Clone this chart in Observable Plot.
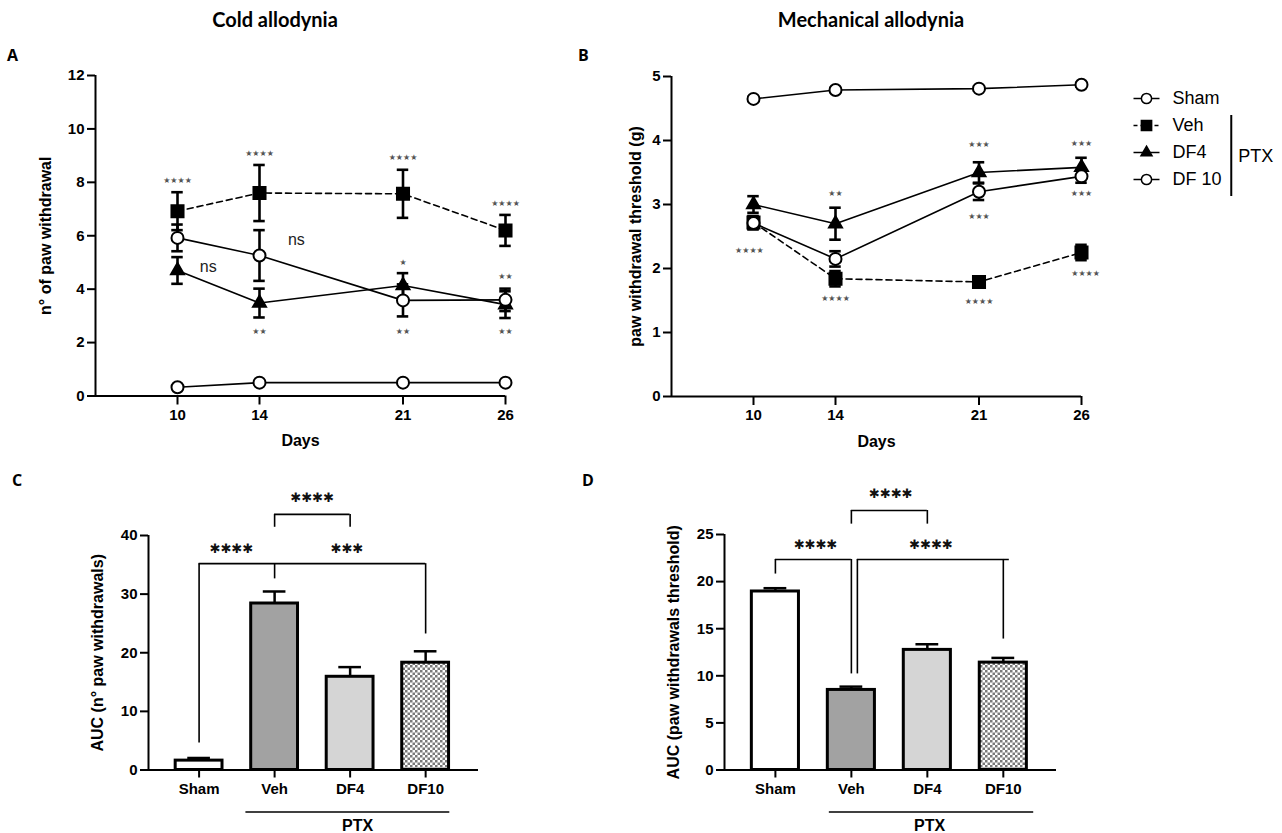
<!DOCTYPE html>
<html><head><meta charset="utf-8">
<script src="https://cdn.jsdelivr.net/npm/d3@7"></script>
<script src="https://cdn.jsdelivr.net/npm/@observablehq/plot@0.6"></script>
<style>
html,body{margin:0;padding:0;background:#fff;}
#fig{position:relative;width:1282px;height:833px;overflow:hidden;background:#fff;}
#fig > svg{position:absolute;left:0;top:0;}
.t{position:absolute;font-weight:bold;color:#000;white-space:nowrap;line-height:1;font-family:'Liberation Sans',Arial,sans-serif;}
.title{font-family:Lato,'Open Sans',sans-serif;font-size:20px;transform:translateX(-50%);}
.letter{font-family:'Open Sans',sans-serif;font-size:16px;}
</style></head><body>
<div id="fig">
<div class="t title" style="left:275px;top:9px;">Cold allodynia</div>
<div class="t title" style="left:871px;top:9px;">Mechanical allodynia</div>
<div class="t letter" style="left:7px;top:47px;">A</div>
<div class="t letter" style="left:578px;top:47px;">B</div>
<div class="t letter" style="left:12px;top:472px;">C</div>
<div class="t letter" style="left:582px;top:472px;">D</div>
</div>
<script>
// ---------- data ----------
const days = [10, 14, 21, 26];
const groups = ["Sham", "Veh", "DF4", "DF 10"];

// A: cold allodynia (n° of paw withdrawal)
const coldSham = [0.33, 0.5, 0.5, 0.5];
const coldShamSem = [0.05, 0.05, 0.05, 0.05];
const coldVeh = [6.92, 7.6, 7.57, 6.2];
const coldVehSem = [0.71, 1.05, 0.9, 0.58];
const coldDF4 = [4.7, 3.48, 4.14, 3.42];
const coldDF4Sem = [0.5, 0.54, 0.46, 0.5];
const coldDF10 = [5.92, 5.26, 3.58, 3.6];
const coldDF10Sem = [0.5, 0.95, 0.6, 0.42];
const coldYTicks = [0, 2, 4, 6, 8, 10, 12];
const coldStars = [
  {day: 10, v: 8.07, t: "****"}, {day: 14, v: 9.08, t: "****"},
  {day: 21, v: 8.94, t: "****"}, {day: 26, v: 7.22, t: "****"},
  {day: 14, v: 2.42, t: "**"}, {day: 21, v: 5.0, t: "*"},
  {day: 21, v: 2.42, t: "**"}, {day: 26, v: 4.48, t: "**"}, {day: 26, v: 2.42, t: "**"}
];
const coldNs = [{day: 11.5, v: 4.82, t: "ns"}, {day: 15.8, v: 5.86, t: "ns"}];

// B: mechanical allodynia (paw withdrawal threshold, g)
const mechSham = [4.65, 4.79, 4.81, 4.87];
const mechShamSem = [0.03, 0.03, 0.03, 0.03];
const mechVeh = [2.72, 1.84, 1.79, 2.25];
const mechVehSem = [0.1, 0.12, 0.06, 0.12];
const mechDF4 = [3.0, 2.7, 3.5, 3.58];
const mechDF4Sem = [0.13, 0.25, 0.16, 0.15];
const mechDF10 = [2.71, 2.15, 3.2, 3.44];
const mechDF10Sem = [0.1, 0.12, 0.13, 0.1];
const mechYTicks = [0, 1, 2, 3, 4, 5];
const mechStars = [
  {day: 9.8, v: 2.29, t: "****"},
  {day: 14, v: 3.18, t: "**"}, {day: 14, v: 1.53, t: "****"},
  {day: 21, v: 3.94, t: "***"}, {day: 21, v: 2.81, t: "***"}, {day: 21, v: 1.49, t: "****"},
  {day: 26, v: 3.96, t: "***"}, {day: 26, v: 3.18, t: "***"}, {day: 26.2, v: 1.93, t: "****"}
];

// C, D: AUC bars
const barCats = ["Sham", "Veh", "DF4", "DF10"];
const aucCold = [1.6, 28.4, 15.9, 18.3];
const aucColdSem = [0.45, 2.05, 1.65, 1.95];
const aucMech = [18.95, 8.5, 12.75, 11.4];
const aucMechSem = [0.35, 0.35, 0.6, 0.5];
const aucColdTicks = [0, 10, 20, 30, 40];
const aucMechTicks = [0, 5, 10, 15, 20, 25];
const bracketsC = [
  {from: "Veh", to: "DF4", y: 43.6, legs: [["Veh", 41.4], ["DF4", 41.4]]},
  {from: "Sham", to: "DF10", y: 35.2, legs: [["Sham", 4.6], ["Veh", 32.6], ["DF10", 23.2]]}
];
const sigC = [{x: 1.5, y: 46.4, t: "****"}, {x: 0.43, y: 37.7, t: "****"}, {x: 1.96, y: 37.7, t: "***"}];
const bracketsD = [
  {from: "Veh", to: "DF4", y: 27.55, legs: [["Veh", 26.1], ["DF4", 26.1]]},
  {from: "Sham", to: "Veh", y: 22.35, legs: [["Sham", 20.8], ["Veh", 10.2]]},
  {from: "Veh", to: "DF10", y: 22.35, legs: [["Veh", 10.2], ["DF10", 13.9]], shift: true}
];
const sigD = [{x: 1.52, y: 29.3, t: "****"}, {x: 0.53, y: 23.9, t: "****"}, {x: 2.05, y: 23.9, t: "****"}];

// ---------- drawing ----------
const W = 1282, H = 833;
const fig = document.getElementById("fig");
const FONT = "'Liberation Sans', Arial, Helvetica, sans-serif";
const baseStyle = {fontFamily: FONT, fontSize: "15px", fontWeight: "bold", background: "transparent", overflow: "visible", color: "black"};
const star = s => s.replace(/\*/g, "\u2605");
const plain = d => String(d);

function linePanel(cfg) {
  const rows = cfg.series.flatMap(s => days.map((d, i) => ({name: s.name, day: d, v: s.values[i], sem: s.sem[i]})));
  const marks = [
    Plot.ruleY([cfg.yDomain[0]], {strokeWidth: 2}),
    Plot.ruleX([cfg.xDomain[0]], {strokeWidth: 2}),
    Plot.axisX({ticks: days, tickFormat: plain, tickSize: 9, tickPadding: 4, label: null, strokeWidth: 2, fontFamily: FONT}),
    Plot.axisY({ticks: cfg.yTicks, tickFormat: plain, tickSize: 8, tickPadding: 3, label: null, strokeWidth: 2, fontFamily: FONT}),
    Plot.text([cfg.yLabel], {frameAnchor: "left", rotate: -90, dx: cfg.yLabelDx, textAnchor: "middle", lineAnchor: "middle", fontSize: 16, fontFamily: FONT}),
    Plot.text(["Days"], {frameAnchor: "bottom", dy: 45, textAnchor: "middle", lineAnchor: "middle", fontSize: 16, fontFamily: FONT})
  ];
  for (const s of cfg.series) {
    marks.push(Plot.line(rows.filter(d => d.name === s.name), {x: "day", y: "v", strokeWidth: 1.6, strokeDasharray: s.dash}));
  }
  for (const s of cfg.series) {
    const r = rows.filter(d => d.name === s.name);
    marks.push(
      Plot.ruleX(r, {x: "day", y1: d => d.v - d.sem, y2: d => d.v + d.sem, strokeWidth: 2.6}),
      Plot.ruleY(r, {y: d => d.v + d.sem, x1: d => d.day - 0.28, x2: d => d.day + 0.28, strokeWidth: 2.6}),
      Plot.ruleY(r, {y: d => d.v - d.sem, x1: d => d.day - 0.28, x2: d => d.day + 0.28, strokeWidth: 2.6}),
      Plot.dot(r, {x: "day", y: "v", symbol: () => s.symbol, r: s.r, fill: s.fill, stroke: "black", strokeWidth: 2})
    );
  }
  marks.push(Plot.text(cfg.stars, {x: "day", y: "v", text: d => star(d.t), fontSize: 8, fill: "#555", fontFamily: "DejaVu Sans", fontWeight: "normal", letterSpacing: 1}));
  if (cfg.ns) marks.push(Plot.text(cfg.ns, {x: "day", y: "v", text: "t", fontSize: 16, fontWeight: "normal", fill: "#222", fontFamily: FONT}));
  return Plot.plot({
    width: W, height: H,
    marginLeft: cfg.ml, marginRight: cfg.mr, marginTop: cfg.mt, marginBottom: cfg.mb,
    x: {domain: cfg.xDomain}, y: {domain: cfg.yDomain},
    symbol: {type: "identity"},
    style: baseStyle,
    marks
  });
}

// drawing order: Veh underneath, then DF4, DF 10, Sham
const mkSeries = (sham, shamS, veh, vehS, df4, df4S, df10, df10S) => [
  {name: "Veh", values: veh, sem: vehS, symbol: "square", r: 6.8, fill: "black", dash: "6,4"},
  {name: "DF4", values: df4, sem: df4S, symbol: "triangle", r: 4.8, fill: "black"},
  {name: "DF 10", values: df10, sem: df10S, symbol: "circle", r: 6, fill: "white"},
  {name: "Sham", values: sham, sem: shamS, symbol: "circle", r: 6, fill: "white"}
];

fig.appendChild(linePanel({
  series: mkSeries(coldSham, coldShamSem, coldVeh, coldVehSem, coldDF4, coldDF4Sem, coldDF10, coldDF10Sem),
  xDomain: [6, 26], yDomain: [0, 12], yTicks: coldYTicks,
  ml: 95, mr: W - 505, mt: 75, mb: H - 395.5,
  yLabel: "n° of paw withdrawal", yLabelDx: -50,
  stars: coldStars, ns: coldNs
}));

fig.appendChild(linePanel({
  series: mkSeries(mechSham, mechShamSem, mechVeh, mechVehSem, mechDF4, mechDF4Sem, mechDF10, mechDF10Sem),
  xDomain: [6, 26], yDomain: [0, 5], yTicks: mechYTicks,
  ml: 671, mr: W - 1081, mt: 76, mb: H - 396,
  yLabel: "paw withdrawal threshold (g)", yLabelDx: -36,
  stars: mechStars
}));

// legend
const legendSeries = mkSeries([], [], [], [], [], [], [], []);
const legendOrder = groups.map(g => legendSeries.find(s => s.name === g));
fig.appendChild(Plot.plot({
  width: W, height: H,
  marginLeft: 1133, marginRight: W - 1159, marginTop: 96.7, marginBottom: H - 180,
  x: {domain: [0, 1], axis: null},
  y: {type: "point", domain: groups, padding: 0, axis: null},
  symbol: {type: "identity"},
  style: {...baseStyle, fontWeight: "normal"},
  marks: [
    ...legendOrder.map(s => Plot.link([s.name], {x1: 0, x2: 1, y1: d => d, y2: d => d, strokeWidth: 1.5, strokeDasharray: s.dash ? "4,3" : null})),
    ...legendOrder.map(s => Plot.dot([s.name], {x: 0.5, y: d => d, symbol: () => s.symbol, r: s.r * 0.85, fill: s.fill, stroke: "black", strokeWidth: 1.5})),
    Plot.text(groups, {x: 1, y: d => d, dx: 13, textAnchor: "start", fontSize: 18, fontFamily: FONT}),
    Plot.ruleX(["PTX"], {x: () => 3.76, y1: () => "Veh", y2: () => "DF 10", insetTop: -10, insetBottom: -17, strokeWidth: 2}),
    Plot.text(["PTX"], {x: () => 3.76, y: () => "DF4", dx: 7, dy: 4, textAnchor: "start", fontSize: 18, fontFamily: FONT})
  ]
}));

// bar panels
const barFills = ["white", "#a2a2a2", "#d5d5d5", "url(#checker)"];
function barPanel(cfg) {
  const rows = barCats.map((c, i) => ({cat: c, i, v: cfg.values[i], sem: cfg.sem[i], fill: barFills[i]}));
  const idx = c => barCats.indexOf(c);
  const marks = [
    Plot.ruleY([0], {strokeWidth: 2}),
    Plot.ruleX([-0.67], {strokeWidth: 2}),
    Plot.axisX({ticks: [0, 1, 2, 3], tickFormat: i => barCats[i], tickSize: 8, tickPadding: 5, label: null, strokeWidth: 2, fontFamily: FONT}),
    Plot.axisY({ticks: cfg.yTicks, tickFormat: plain, tickSize: 8, tickPadding: 3, label: null, strokeWidth: 2, fontFamily: FONT}),
    Plot.text([cfg.yLabel], {frameAnchor: "left", rotate: -90, dx: cfg.yLabelDx, textAnchor: "middle", lineAnchor: "middle", fontSize: 16, fontFamily: FONT}),
    Plot.ruleX(rows, {x: "i", y1: "v", y2: d => d.v + d.sem, strokeWidth: 2.5}),
    Plot.ruleY(rows, {y: d => d.v + d.sem, x1: d => d.i - 0.15, x2: d => d.i + 0.15, strokeWidth: 2.5}),
    Plot.rect(rows, {x1: d => d.i - 0.31, x2: d => d.i + 0.31, y1: 0, y2: "v", fill: "fill", stroke: "black", strokeWidth: 3}),
    Plot.ruleY([0], {x1: idx(cfg.ptx[0]) + cfg.ptx[1], x2: idx(cfg.ptx[2]) + cfg.ptx[3], dy: 42, strokeWidth: 1.5}),
    Plot.text(["PTX"], {x: () => cfg.ptx[4], y: () => 0, dy: 56, fontSize: 16, fontFamily: FONT})
  ];
  for (const b of cfg.brackets) {
    const dx = b.shift ? 6 : 0;
    marks.push(
      Plot.ruleY([b], {y: "y", x1: d => idx(d.from), x2: d => idx(d.to), dx, strokeWidth: 1.6}),
      Plot.ruleX(b.legs.slice(0, 1), {x: d => idx(d[0]), y1: () => b.y, y2: d => d[1], dx, strokeWidth: 1.6}),
      Plot.ruleX(b.legs.slice(1), {x: d => idx(d[0]), y1: () => b.y, y2: d => d[1], strokeWidth: 1.6})
    );
  }
  marks.push(Plot.text(cfg.sig, {x: "x", y: "y", text: d => d.t.replace(/\*/g, "\u2731"), fontSize: 13, fontFamily: "DejaVu Sans", fontWeight: "normal", letterSpacing: 2, fill: "#111"}));
  return Plot.plot({
    width: W, height: H,
    marginLeft: cfg.ml, marginRight: cfg.mr, marginTop: cfg.mt, marginBottom: cfg.mb,
    x: {domain: [-0.67, 3.7]}, y: {domain: cfg.yDomain},
    style: baseStyle,
    marks
  });
}

fig.appendChild(barPanel({
  values: aucCold, sem: aucColdSem, yDomain: [0, 40], yTicks: aucColdTicks,
  ml: 148, mr: W - 478, mt: 535, mb: H - 769.5,
  yLabel: "AUC (n° paw withdrawals)", yLabelDx: -51,
  brackets: bracketsC, sig: sigC, ptx: ["Veh", -0.38, "DF10", 0.32, 2.1]
}));
fig.appendChild(barPanel({
  values: aucMech, sem: aucMechSem, yDomain: [0, 25], yTicks: aucMechTicks,
  ml: 724, mr: W - 1056, mt: 534, mb: H - 769.5,
  yLabel: "AUC (paw withdrawals threshold)", yLabelDx: -51,
  brackets: bracketsD, sig: sigD, ptx: ["Veh", -0.29, "DF10", 0.4, 2.03]
}));

// checker pattern for DF10 bars
const NS = "http://www.w3.org/2000/svg";
const defsSvg = document.createElementNS(NS, "svg");
defsSvg.setAttribute("width", 0); defsSvg.setAttribute("height", 0);
defsSvg.innerHTML = '<defs><pattern id="checker" width="5" height="5" patternUnits="userSpaceOnUse"><rect width="5" height="5" fill="#fff"/><rect width="2.5" height="2.5" fill="#7a7a7a"/><rect x="2.5" y="2.5" width="2.5" height="2.5" fill="#7a7a7a"/></pattern></defs>';
fig.appendChild(defsSvg);
</script>
</body></html>
